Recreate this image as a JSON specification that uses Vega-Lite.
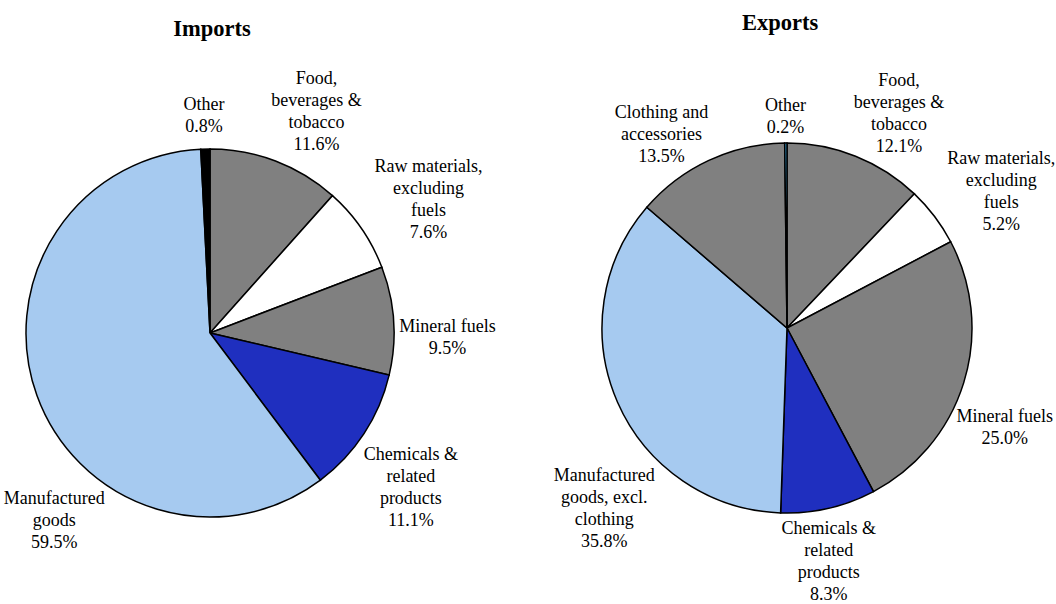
{
  "$schema": "https://vega.github.io/schema/vega-lite/v6.json",
  "padding": {"top": 12, "left": -16, "right": 0, "bottom": 0},
  "background": "white",
  "bounds": "flush",
  "spacing": 167,
  "config": {
    "view": {"stroke": null},
    "font": "Liberation Serif",
    "title": {"font": "Liberation Serif", "fontSize": 22.5, "fontWeight": "bold", "color": "black", "anchor": "middle", "frame": "group", "baseline": "alphabetic"},
    "text": {"font": "Liberation Serif", "fontSize": 18, "lineHeight": 22, "lineBreak": "\n", "color": "black", "align": "center", "baseline": "middle"}
  },
  "resolve": {"scale": {"color": "independent", "theta": "independent"}},
  "datasets": {
    "imports": [
      {"order": 1, "category": "Food", "label": "Food,\nbeverages &\ntobacco\n11.6%", "value": 11.6},
      {"order": 2, "category": "Raw", "label": "Raw materials,\nexcluding\nfuels\n7.6%", "value": 7.6},
      {"order": 3, "category": "Mineral", "label": "Mineral fuels\n9.5%", "value": 9.5},
      {"order": 4, "category": "Chemicals", "label": "Chemicals &\nrelated\nproducts\n11.1%", "value": 11.1},
      {"order": 5, "category": "Manufactured", "label": "Manufactured\ngoods\n59.5%", "value": 59.5},
      {"order": 6, "category": "Other", "label": "Other\n0.8%", "value": 0.8}
    ],
    "exports": [
      {"order": 1, "category": "Food", "label": "Food,\nbeverages &\ntobacco\n12.1%", "value": 12.1},
      {"order": 2, "category": "Raw", "label": "Raw materials,\nexcluding\nfuels\n5.2%", "value": 5.2},
      {"order": 3, "category": "Mineral", "label": "Mineral fuels\n25.0%", "value": 25.0},
      {"order": 4, "category": "Chemicals", "label": "Chemicals &\nrelated\nproducts\n8.3%", "value": 8.3},
      {"order": 5, "category": "Manufactured", "label": "Manufactured\ngoods, excl.\nclothing\n35.8%", "value": 35.8},
      {"order": 6, "category": "Clothing", "label": "Clothing and\naccessories\n13.5%", "value": 13.5},
      {"order": 7, "category": "Other", "label": "Other\n0.2%", "value": 0.2}
    ]
  },
  "hconcat": [
    {
      "title": {"text": "Imports", "offset": 14, "dx": 2},
      "width": 410,
      "height": 400,
      "data": {"name": "imports"},
      "encoding": {
        "theta": {"field": "value", "type": "quantitative", "stack": true},
        "order": {"field": "order", "type": "quantitative"}
      },
      "layer": [
        {
          "mark": {"type": "arc", "outerRadius": 184, "stroke": "black", "strokeWidth": 1.5},
          "encoding": {
            "color": {
              "field": "category", "type": "nominal", "legend": null,
              "scale": {
                "domain": ["Food", "Raw", "Mineral", "Chemicals", "Manufactured", "Other"],
                "range": ["#808080", "#ffffff", "#808080", "#1f2fbf", "#a6caf0", "#000000"]
              }
            }
          }
        },
        {
          "mark": {"type": "text", "radius": 238, "dy": 10},
          "encoding": {
            "detail": {"field": "category", "type": "nominal"},
            "text": {"condition": {"test": "datum.category === 'Mineral' || datum.category === 'Other'", "field": "label", "type": "nominal"}, "value": ""}
          }
        },
        {
          "mark": {"type": "text", "radius": 240, "dx": 21, "dy": -30},
          "encoding": {
            "detail": {"field": "category", "type": "nominal"},
            "text": {"condition": {"test": "datum.category === 'Food' || datum.category === 'Raw'", "field": "label", "type": "nominal"}, "value": ""}
          }
        },
        {
          "mark": {"type": "text", "radius": 240, "dy": -9},
          "encoding": {
            "detail": {"field": "category", "type": "nominal"},
            "text": {"condition": {"test": "datum.category === 'Chemicals'", "field": "label", "type": "nominal"}, "value": ""}
          }
        },
        {
          "mark": {"type": "text", "radius": 240, "dx": 70, "dy": 84},
          "encoding": {
            "detail": {"field": "category", "type": "nominal"},
            "text": {"condition": {"test": "datum.category === 'Manufactured'", "field": "label", "type": "nominal"}, "value": ""}
          }
        }
      ]
    },
    {
      "title": {"text": "Exports", "offset": 11.5, "dx": -7},
      "width": 410,
      "height": 390,
      "data": {"name": "exports"},
      "encoding": {
        "theta": {"field": "value", "type": "quantitative", "stack": true},
        "order": {"field": "order", "type": "quantitative"}
      },
      "layer": [
        {
          "mark": {"type": "arc", "outerRadius": 185, "stroke": "black", "strokeWidth": 1.5},
          "encoding": {
            "color": {
              "field": "category", "type": "nominal", "legend": null,
              "scale": {
                "domain": ["Food", "Raw", "Mineral", "Chemicals", "Manufactured", "Clothing", "Other"],
                "range": ["#808080", "#ffffff", "#808080", "#1f2fbf", "#a6caf0", "#808080", "#3399cc"]
              }
            }
          }
        },
        {
          "mark": {"type": "text", "radius": 228, "dy": 6},
          "encoding": {
            "detail": {"field": "category", "type": "nominal"},
            "text": {"condition": {"test": "datum.category === 'Other'", "field": "label", "type": "nominal"}, "value": ""}
          }
        },
        {
          "mark": {"type": "text", "radius": 228, "dy": 22},
          "encoding": {
            "detail": {"field": "category", "type": "nominal"},
            "text": {"condition": {"test": "datum.category === 'Mineral'", "field": "label", "type": "nominal"}, "value": ""}
          }
        },
        {
          "mark": {"type": "text", "radius": 240, "dx": 23, "dy": -24},
          "encoding": {
            "detail": {"field": "category", "type": "nominal"},
            "text": {"condition": {"test": "datum.category === 'Food' || datum.category === 'Raw'", "field": "label", "type": "nominal"}, "value": ""}
          }
        },
        {
          "mark": {"type": "text", "radius": 240, "dx": -24, "dy": 3},
          "encoding": {
            "detail": {"field": "category", "type": "nominal"},
            "text": {"condition": {"test": "datum.category === 'Clothing'", "field": "label", "type": "nominal"}, "value": ""}
          }
        },
        {
          "mark": {"type": "text", "radius": 240, "dx": -12, "dy": -33},
          "encoding": {
            "detail": {"field": "category", "type": "nominal"},
            "text": {"condition": {"test": "datum.category === 'Chemicals'", "field": "label", "type": "nominal"}, "value": ""}
          }
        },
        {
          "mark": {"type": "text", "radius": 240, "dx": 37, "dy": 52},
          "encoding": {
            "detail": {"field": "category", "type": "nominal"},
            "text": {"condition": {"test": "datum.category === 'Manufactured'", "field": "label", "type": "nominal"}, "value": ""}
          }
        }
      ]
    }
  ]
}
